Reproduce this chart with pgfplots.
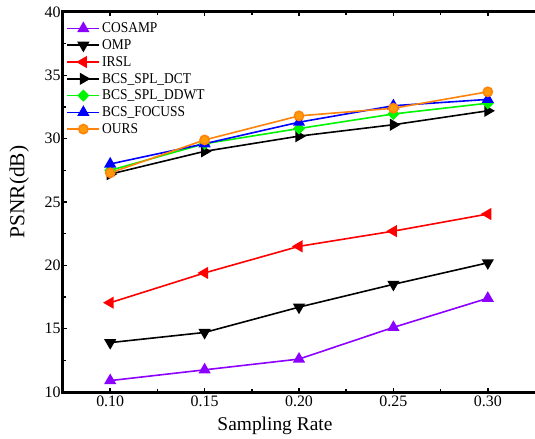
\documentclass[border=0pt]{standalone}
\usepackage{fontspec}
\setmainfont{Liberation Serif}
\usepackage{graphicx}
\usepackage{pgfplots}
\pgfplotsset{compat=1.18}
\definecolor{cviolet}{RGB}{140,0,255}
\definecolor{cgreen}{RGB}{0,245,0}
\definecolor{corange}{RGB}{255,130,10}
\newcommand{\legtxt}[1]{\scalebox{0.9}[1]{#1}}

\begin{document}
\begin{tikzpicture}
\useasboundingbox (-63bp,-47bp) rectangle (472bp,392bp);
\begin{axis}[at={(0,0)},anchor=south west,
  scale only axis,width=472bp,height=380bp,
  xmin=0.075,xmax=0.325,ymin=10,ymax=40,
  xtick={0.10,0.15,0.20,0.25,0.30},
  xticklabels={0.10,0.15,0.20,0.25,0.30},
  minor xtick={0.125,0.175,0.225,0.275},
  ytick={10,15,...,40},minor ytick={12.5,17.5,...,37.5},
  ytick pos=left,xtick pos=both,
  tick align=inside,
  major tick length=4.5bp,minor tick length=3bp,
  every tick/.style={black,line width=1.6bp},
  axis line style={draw=none},
  /pgf/number format/assume math mode=true,
  tick label style={font=\fontsize{16}{18}\selectfont},
  yticklabel style={xshift=1bp},
  xlabel={Sampling Rate},ylabel={PSNR(dB)},
  xlabel style={font=\fontsize{19.5}{22}\selectfont,at={(rel axis cs:0.449,-0.1)},anchor=base},
  ylabel style={font=\fontsize{21.5}{24}\selectfont,at={(rel axis cs:-0.093,0.526)},anchor=center},
  clip=false,
  legend style={at={(rel axis cs:0.005,0.98)},anchor=north west,draw=none,fill=none,
    font=\fontsize{15}{17}\selectfont,row sep=1.4bp,inner sep=1bp},
  legend cell align=left,
  legend image code/.code={
    \draw[mark repeat=2,mark phase=2,#1] plot coordinates {(0bp,0bp) (16bp,0bp) (32bp,0bp)};},
  every axis plot/.append style={line width=1.6bp},
]
\addplot[cviolet,mark=triangle*,mark size=5.5bp] coordinates
 {(0.10,10.9)(0.15,11.75)(0.20,12.6)(0.25,15.1)(0.30,17.4)};
\addlegendentry{\legtxt{COSAMP}}
\addplot[black,mark=triangle*,mark size=5.5bp,mark options={rotate=180}] coordinates
 {(0.10,13.9)(0.15,14.7)(0.20,16.7)(0.25,18.5)(0.30,20.2)};
\addlegendentry{\legtxt{OMP}}
\addplot[red,mark=triangle*,mark size=5.5bp,mark options={rotate=90}] coordinates
 {(0.10,17.05)(0.15,19.4)(0.20,21.5)(0.25,22.7)(0.30,24.05)};
\addlegendentry{\legtxt{IRSL}}
\addplot[black,mark=triangle*,mark size=5.5bp,mark options={rotate=-90}] coordinates
 {(0.10,27.2)(0.15,29.0)(0.20,30.2)(0.25,31.1)(0.30,32.2)};
\addlegendentry{\legtxt{BCS\_SPL\_DCT}}
\addplot[cgreen,mark=diamond*,mark size=5bp,mark options={xscale=1.3}] coordinates
 {(0.10,27.5)(0.15,29.6)(0.20,30.8)(0.25,31.95)(0.30,32.8)};
\addlegendentry{\legtxt{BCS\_SPL\_DDWT}}
\addplot[blue,mark=triangle*,mark size=5.5bp] coordinates
 {(0.10,28.0)(0.15,29.6)(0.20,31.3)(0.25,32.6)(0.30,33.1)};
\addlegendentry{\legtxt{BCS\_FOCUSS}}
\addplot[corange,mark=*,mark size=4.6bp,mark options={fill=corange!80!yellow}] coordinates
 {(0.10,27.3)(0.15,29.9)(0.20,31.8)(0.25,32.4)(0.30,33.7)};
\addlegendentry{\legtxt{OURS}}
\draw[black,line width=3bp,line cap=rect] (rel axis cs:1,1) -- (rel axis cs:0,1) -- (rel axis cs:0,0) -- (rel axis cs:1,0);
\end{axis}
\end{tikzpicture}
\end{document}
